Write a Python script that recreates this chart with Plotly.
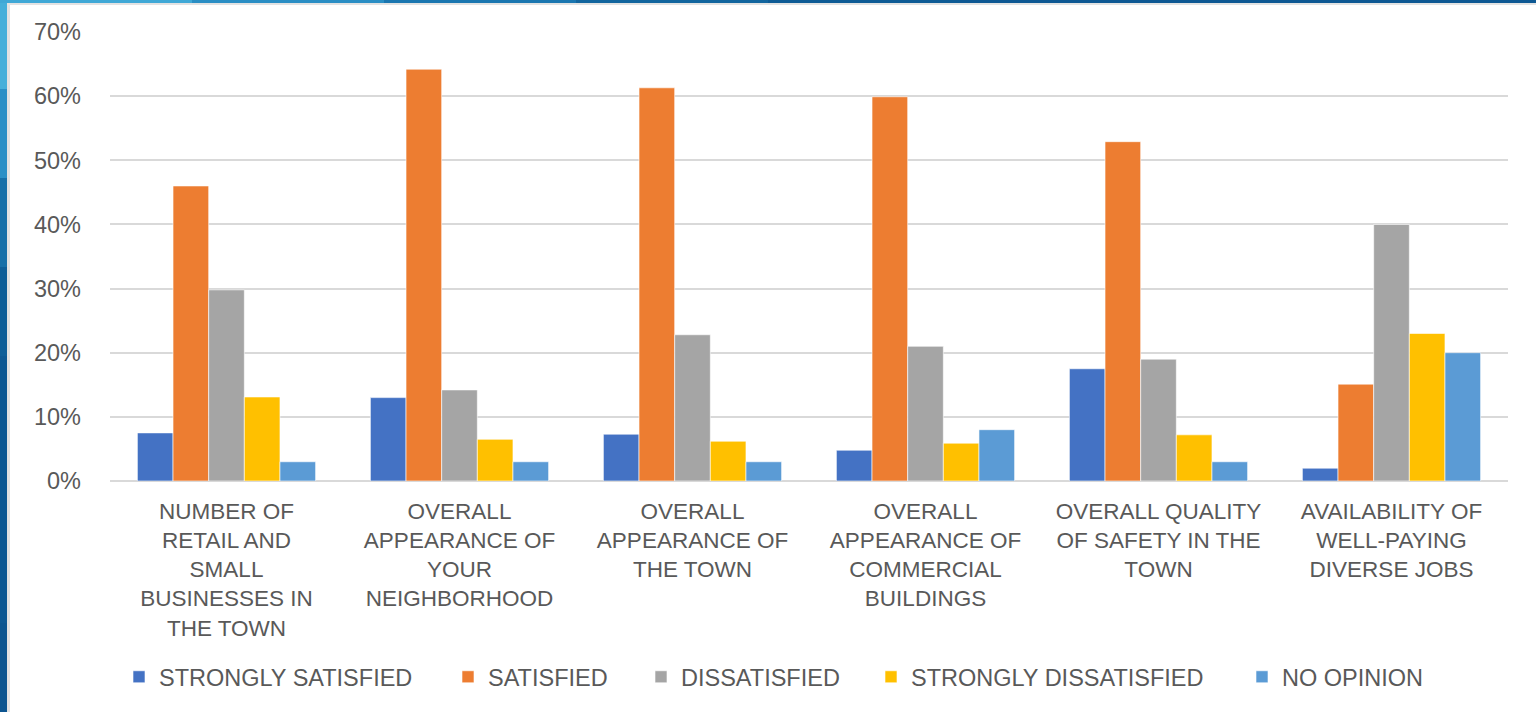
import plotly.graph_objects as go

categories = [
    "NUMBER OF<br>RETAIL AND<br>SMALL<br>BUSINESSES IN<br>THE TOWN",
    "OVERALL<br>APPEARANCE OF<br>YOUR<br>NEIGHBORHOOD",
    "OVERALL<br>APPEARANCE OF<br>THE TOWN",
    "OVERALL<br>APPEARANCE OF<br>COMMERCIAL<br>BUILDINGS",
    "OVERALL QUALITY<br>OF SAFETY IN THE<br>TOWN",
    "AVAILABILITY OF<br>WELL-PAYING<br>DIVERSE JOBS",
]
series_names = ["STRONGLY SATISFIED", "SATISFIED", "DISSATISFIED",
                "STRONGLY DISSATISFIED", "NO OPINION"]
strongly_satisfied = [7.5, 13.0, 7.3, 4.8, 17.5, 2.0]
satisfied = [46.0, 64.2, 61.3, 59.9, 52.9, 15.1]
dissatisfied = [29.8, 14.2, 22.8, 21.0, 19.0, 40.0]
strongly_dissatisfied = [13.1, 6.5, 6.2, 5.9, 7.2, 23.0]
no_opinion = [3.0, 3.0, 3.0, 8.0, 3.0, 20.0]
colors = ["#4472C4", "#ED7D31", "#A5A5A5", "#FFC000", "#5B9BD5"]
y_ticks = [0, 10, 20, 30, 40, 50, 60, 70]
y_tick_labels = ["0%", "10%", "20%", "30%", "40%", "50%", "60%", "70%"]

values = [strongly_satisfied, satisfied, dissatisfied, strongly_dissatisfied, no_opinion]

W, H = 1536, 712
L, R, T, B = 110, 28, 32, 231
pw, ph = W - L - R, H - T - B

def px_x(px):
    return (px - L) / pw

def px_y(py):
    return (H - B - py) / ph

FONT = "'Liberation Sans', Arial, sans-serif"
GRAY = "#595959"

# pixel x of each legend entry's marker (layout only)
legend_marker_px = [133, 462, 655, 885, 1256]
legend_names = ["legend", "legend2", "legend3", "legend4", "legend5"]

fig = go.Figure()
for name, vals, col, lg in zip(series_names, values, colors, legend_names):
    fig.add_trace(go.Bar(
        x=categories, y=vals, name=name, legend=lg,
        marker=dict(color=col, line=dict(width=0.6, color="white")),
    ))

shapes = []
# left decorative strip (stepwise gradient)
strip_cols = ["#45AFDA", "#2A8FC6", "#166FA8", "#0E5E98", "#0D5893", "#0D5893", "#0D5893", "#0C5590"]
n = len(strip_cols)
for i, c in enumerate(strip_cols):
    y0 = i * H / n
    y1 = (i + 1) * H / n
    shapes.append(dict(type="rect", xref="paper", yref="paper", layer="above",
                       x0=px_x(0), x1=px_x(7), y0=px_y(y1), y1=px_y(y0),
                       fillcolor=c, line=dict(width=0)))
# top strip
top_cols = ["#3FA8D6", "#2A8EC4", "#1A76B0", "#12659E", "#0E5B95", "#0D5893", "#0D5893", "#0D5893"]
m = len(top_cols)
for i, c in enumerate(top_cols):
    x0 = i * W / m
    x1 = (i + 1) * W / m
    shapes.append(dict(type="rect", xref="paper", yref="paper", layer="above",
                       x0=px_x(x0), x1=px_x(x1), y0=px_y(3), y1=px_y(0),
                       fillcolor=c, line=dict(width=0)))
# light gray edges
shapes.append(dict(type="rect", xref="paper", yref="paper", layer="above",
                   x0=px_x(7), x1=px_x(10), y0=px_y(H), y1=px_y(3),
                   fillcolor="#E2E2E2", line=dict(width=0)))
shapes.append(dict(type="rect", xref="paper", yref="paper", layer="above",
                   x0=px_x(10), x1=px_x(W), y0=px_y(5), y1=px_y(3),
                   fillcolor="#E2E2E2", line=dict(width=0)))

layout_legends = {}
for lg, mx in zip(legend_names, legend_marker_px):
    layout_legends[lg] = dict(
        orientation="h", x=px_x(mx - 14), xanchor="left",
        y=px_y(677), yanchor="middle",
        font=dict(size=23.5, color=GRAY, family=FONT),
        bgcolor="rgba(0,0,0,0)", borderwidth=0,
    )

fig.update_layout(
    width=W, height=H,
    margin=dict(l=L, r=R, t=T, b=B, pad=0),
    paper_bgcolor="white", plot_bgcolor="white",
    barmode="group", bargap=0.235, bargroupgap=0,
    font=dict(family=FONT, color=GRAY, size=22),
    showlegend=True,
    shapes=shapes,
    **layout_legends,
)
fig.update_xaxes(
    showgrid=False, showline=False, zeroline=False,
    tickfont=dict(size=22.5, color=GRAY, family=FONT),
    tickangle=0, ticks="", ticklabelstandoff=14,
)
fig.update_yaxes(
    range=[0, 70], tickvals=y_ticks, ticktext=y_tick_labels,
    showgrid=True, gridcolor="#D9D9D9", gridwidth=1.5,
    zeroline=True, zerolinecolor="#D9D9D9", zerolinewidth=1.5,
    showline=False, ticks="",
    tickfont=dict(size=23.5, color=GRAY, family=FONT),
    ticklabelstandoff=28,
)

fig.write_html("out.html", config={"displayModeBar": False},
               post_script="document.body.style.margin='0px';")
